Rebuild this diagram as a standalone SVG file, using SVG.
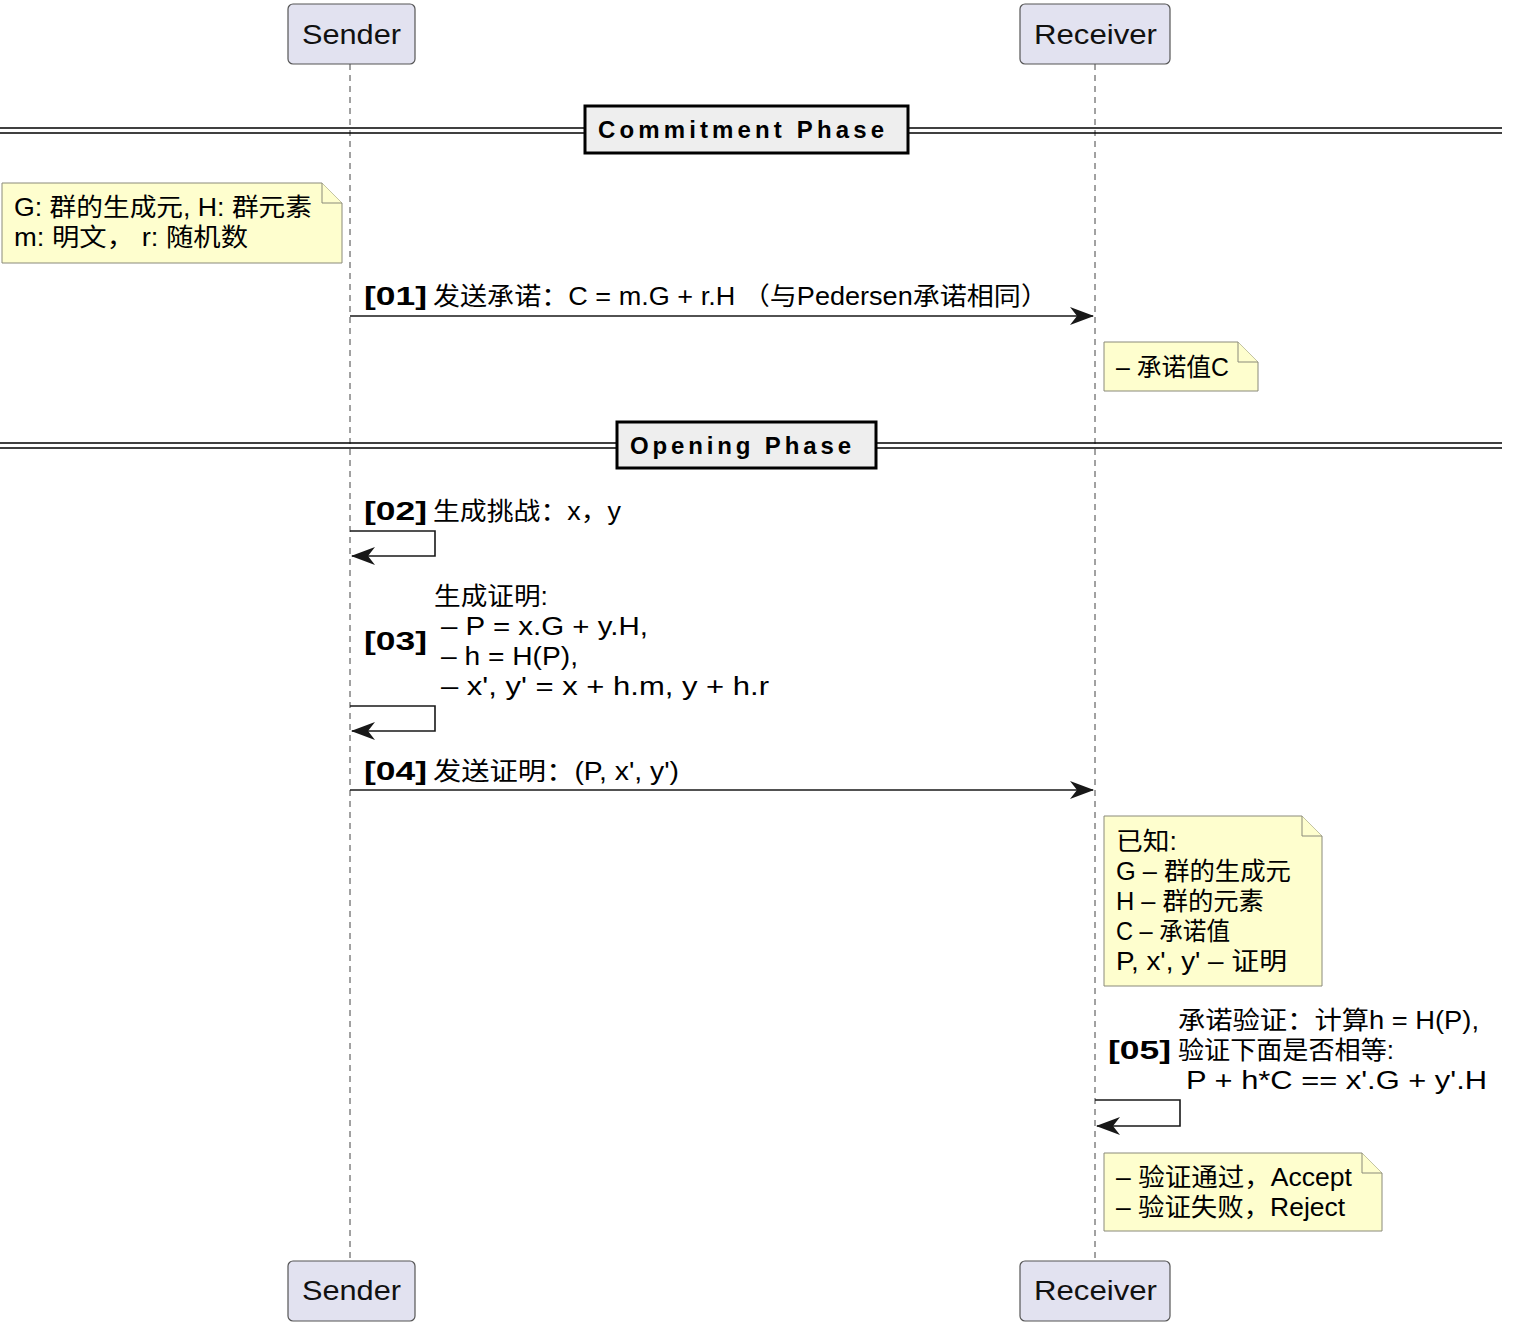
<svg xmlns="http://www.w3.org/2000/svg" width="1534" height="1342" viewBox="0 0 1534 1342">
<style>
.t{font-family:"Liberation Sans","Noto Sans CJK SC",sans-serif;font-size:25px;fill:#000}
.b{font-family:"Liberation Sans","Noto Sans CJK SC",sans-serif;font-size:25px;font-weight:bold;fill:#000}
.pt{font-family:"Liberation Sans","Noto Sans CJK SC",sans-serif;font-size:28px;fill:#111}
.dv{font-family:"Liberation Sans",sans-serif;font-size:24px;font-weight:bold;fill:#000}
.part{fill:#e2e2f0;stroke:#555;stroke-width:1.2}
.life{stroke:#444;stroke-width:1;stroke-dasharray:6,5;fill:none}
.note{fill:#fefece;stroke:#8a8a7a;stroke-width:1}
.msg{stroke:#181818;stroke-width:1.6;fill:none}
.dl{stroke:#000;stroke-width:1.5}
.dbox{fill:#eeeeee;stroke:#000;stroke-width:3}
</style>
<defs>
<marker id="ah" viewBox="0 0 24 18" refX="23" refY="9" markerWidth="24" markerHeight="18" markerUnits="userSpaceOnUse" orient="auto">
<path d="M0,0 L24,9 L0,18 L7,9 Z" fill="#181818"/>
</marker>
</defs>
<g id="lifelines">
<line class="life" x1="350" y1="64" x2="350" y2="1261"/>
<line class="life" x1="1095" y1="64" x2="1095" y2="1261"/>
</g>
<g id="sender-top"><rect class="part" x="288" y="4" width="127" height="60" rx="5"/><text class="pt" x="302" y="44" textLength="99" lengthAdjust="spacingAndGlyphs">Sender</text></g>
<g id="receiver-top"><rect class="part" x="1020" y="4" width="150" height="60" rx="5"/><text class="pt" x="1034" y="44" textLength="123" lengthAdjust="spacingAndGlyphs">Receiver</text></g>
<g id="sender-bottom"><rect class="part" x="288" y="1261" width="127" height="60" rx="5"/><text class="pt" x="302" y="1300" textLength="99" lengthAdjust="spacingAndGlyphs">Sender</text></g>
<g id="receiver-bottom"><rect class="part" x="1020" y="1261" width="150" height="60" rx="5"/><text class="pt" x="1034" y="1300" textLength="123" lengthAdjust="spacingAndGlyphs">Receiver</text></g>
<g id="divider-commitment">
<line class="dl" x1="0" y1="128" x2="1502" y2="128"/><line class="dl" x1="0" y1="133" x2="1502" y2="133"/>
<rect class="dbox" x="585" y="106" width="323" height="47"/>
<text class="dv" x="598" y="138" textLength="286" lengthAdjust="spacing">Commitment Phase</text>
</g>
<g id="divider-opening">
<line class="dl" x1="0" y1="443" x2="1502" y2="443"/><line class="dl" x1="0" y1="448" x2="1502" y2="448"/>
<rect class="dbox" x="617" y="422" width="259" height="46"/>
<text class="dv" x="630" y="454" textLength="221" lengthAdjust="spacing">Opening Phase</text>
</g>
<g id="note1">
<path class="note" d="M2,183 H322 L342,203 V263 H2 Z"/><path class="note" d="M322,183 V203 H342"/>
<text class="t" x="14" y="216" textLength="298" lengthAdjust="spacingAndGlyphs">G: 群的生成元, H: 群元素</text>
<text class="t" x="14" y="246" textLength="234" lengthAdjust="spacingAndGlyphs">m: 明文，   r: 随机数</text>
</g>
<g id="note2">
<path class="note" d="M1104,342 H1238 L1258,362 V391 H1104 Z"/><path class="note" d="M1238,342 V362 H1258"/>
<text class="t" x="1116" y="376" textLength="113" lengthAdjust="spacingAndGlyphs">– 承诺值C</text>
</g>
<g id="note3">
<path class="note" d="M1104,816 H1302 L1322,836 V986 H1104 Z"/><path class="note" d="M1302,816 V836 H1322"/>
<text class="t" x="1116" y="850" textLength="61" lengthAdjust="spacingAndGlyphs">已知:</text>
<text class="t" x="1116" y="880" textLength="175" lengthAdjust="spacingAndGlyphs">G – 群的生成元</text>
<text class="t" x="1116" y="910" textLength="148" lengthAdjust="spacingAndGlyphs">H – 群的元素</text>
<text class="t" x="1116" y="940" textLength="114" lengthAdjust="spacingAndGlyphs">C – 承诺值</text>
<text class="t" x="1116" y="970" textLength="171" lengthAdjust="spacingAndGlyphs">P, x', y' – 证明</text>
</g>
<g id="note4">
<path class="note" d="M1104,1153 H1362 L1382,1173 V1231 H1104 Z"/><path class="note" d="M1362,1153 V1173 H1382"/>
<text class="t" x="1116" y="1186" textLength="236" lengthAdjust="spacingAndGlyphs">– 验证通过，Accept</text>
<text class="t" x="1116" y="1216" textLength="229" lengthAdjust="spacingAndGlyphs">– 验证失败，Reject</text>
</g>
<g id="connectors">
<line class="msg" x1="350" y1="316" x2="1093" y2="316" marker-end="url(#ah)"/>
<path class="msg" d="M350,531 H435 V556 H352" marker-end="url(#ah)"/>
<path class="msg" d="M350,706 H435 V731 H352" marker-end="url(#ah)"/>
<line class="msg" x1="350" y1="790" x2="1093" y2="790" marker-end="url(#ah)"/>
<path class="msg" d="M1095,1100 H1180 V1126 H1097" marker-end="url(#ah)"/>
</g>
<g id="labels">
<text class="b" x="364" y="305" textLength="63" lengthAdjust="spacingAndGlyphs">[01]</text>
<text class="t" x="433" y="305" textLength="615" lengthAdjust="spacingAndGlyphs">发送承诺：C = m.G + r.H （与Pedersen承诺相同）</text>
<text class="b" x="364" y="520" textLength="63" lengthAdjust="spacingAndGlyphs">[02]</text>
<text class="t" x="433" y="520" textLength="188" lengthAdjust="spacingAndGlyphs">生成挑战：x，y</text>
<text class="b" x="364" y="650" textLength="63" lengthAdjust="spacingAndGlyphs">[03]</text>
<text class="t" x="434" y="605" textLength="114" lengthAdjust="spacingAndGlyphs">生成证明:</text>
<text class="t" x="441" y="635" textLength="207" lengthAdjust="spacingAndGlyphs">– P = x.G + y.H,</text>
<text class="t" x="441" y="665" textLength="137" lengthAdjust="spacingAndGlyphs">– h = H(P),</text>
<text class="t" x="441" y="695" textLength="328" lengthAdjust="spacingAndGlyphs">– x', y' = x + h.m, y + h.r</text>
<text class="b" x="364" y="780" textLength="63" lengthAdjust="spacingAndGlyphs">[04]</text>
<text class="t" x="433" y="780" textLength="246" lengthAdjust="spacingAndGlyphs">发送证明：(P, x', y')</text>
<text class="t" x="1178" y="1029" textLength="301" lengthAdjust="spacingAndGlyphs">承诺验证：计算h = H(P),</text>
<text class="b" x="1108" y="1059" textLength="63" lengthAdjust="spacingAndGlyphs">[05]</text>
<text class="t" x="1178" y="1059" textLength="216" lengthAdjust="spacingAndGlyphs">验证下面是否相等:</text>
<text class="t" x="1186" y="1089" textLength="301" lengthAdjust="spacingAndGlyphs">P + h*C == x'.G + y'.H</text>
</g>
</svg>
